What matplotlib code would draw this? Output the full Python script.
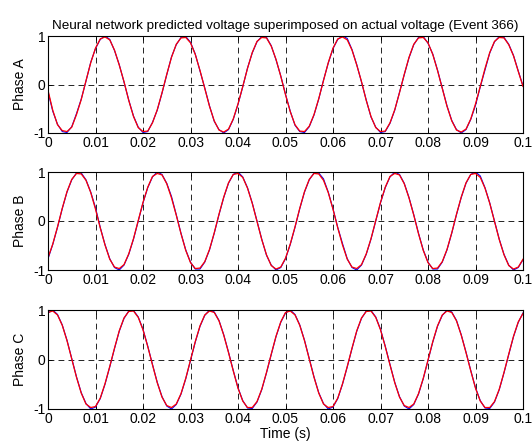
import numpy as np
import matplotlib
matplotlib.use("Agg")
import matplotlib.pyplot as plt

plt.rcParams['font.family'] = ['Liberation Sans', 'DejaVu Sans']
plt.rcParams['font.size'] = 10

# sampled every 1 ms, 0 .. 0.1 s
time_s = np.arange(101) * 0.001

actual_a = [-0.15, -0.55, -0.82, -0.97, -0.99, -0.87, -0.60, -0.30, 0.07, 0.46, 0.74, 0.93, 1.00, 0.93, 0.70, 0.41, 0.05, -0.32, -0.65, -0.88, -0.99, -0.97, -0.78, -0.53, -0.18,
            0.20, 0.57, 0.82, 0.97, 0.99, 0.87, 0.63, 0.28, -0.07, -0.44, -0.76, -0.93, -1.00, -0.93, -0.72, -0.41, -0.05, 0.34, 0.65, 0.88, 0.99, 0.97, 0.80, 0.51, 0.18,
            -0.20, -0.55, -0.84, -0.97, -0.99, -0.87, -0.63, -0.30, 0.09, 0.44, 0.74, 0.93, 1.00, 0.95, 0.72, 0.41, 0.05, -0.32, -0.67, -0.88, -0.99, -0.97, -0.80, -0.53, -0.16,
            0.20, 0.55, 0.82, 0.97, 0.99, 0.85, 0.63, 0.30, -0.07, -0.44, -0.74, -0.93, -1.00, -0.93, -0.72, -0.43, -0.05, 0.30, 0.65, 0.88, 0.99, 0.97, 0.83, 0.60, 0.28, -0.03]
pred_a = [-0.12, -0.53, -0.83, -0.95, -0.97, -0.88, -0.62, -0.31, 0.08, 0.45, 0.75, 0.94, 0.98, 0.92, 0.71, 0.40, 0.06, -0.33, -0.66, -0.89, -0.97, -0.96, -0.79, -0.52, -0.17,
          0.21, 0.56, 0.83, 0.96, 0.97, 0.86, 0.62, 0.29, -0.08, -0.45, -0.75, -0.94, -0.98, -0.92, -0.71, -0.40, -0.04, 0.33, 0.66, 0.89, 0.97, 0.96, 0.79, 0.52, 0.17,
          -0.21, -0.56, -0.83, -0.96, -0.97, -0.86, -0.62, -0.29, 0.08, 0.45, 0.75, 0.94, 0.98, 0.92, 0.71, 0.40, 0.06, -0.33, -0.66, -0.89, -0.97, -0.96, -0.79, -0.52, -0.17,
          0.21, 0.56, 0.83, 0.96, 0.97, 0.86, 0.62, 0.29, -0.08, -0.45, -0.75, -0.94, -0.98, -0.92, -0.71, -0.40, -0.04, 0.33, 0.66, 0.89, 0.97, 0.96, 0.82, 0.59, 0.27, -0.04]

actual_b = [-0.77, -0.48, -0.13, 0.25, 0.59, 0.84, 0.98, 0.98, 0.84, 0.59, 0.27, -0.13, -0.48, -0.77, -0.95, -1.00, -0.90, -0.68, -0.37, 0.00, 0.37, 0.68, 0.90, 1.00, 0.95,
            0.77, 0.50, 0.13, -0.25, -0.59, -0.84, -0.98, -0.98, -0.84, -0.59, -0.25, 0.13, 0.48, 0.77, 0.95, 1.00, 0.90, 0.68, 0.37, 0.00, -0.37, -0.70, -0.90, -1.00, -0.95,
            -0.77, -0.48, -0.13, 0.25, 0.59, 0.84, 0.98, 0.98, 0.86, 0.59, 0.25, -0.13, -0.46, -0.77, -0.95, -1.00, -0.90, -0.68, -0.37, 0.00, 0.37, 0.68, 0.90, 1.00, 0.95,
            0.77, 0.48, 0.13, -0.25, -0.59, -0.84, -0.98, -0.98, -0.84, -0.59, -0.25, 0.13, 0.48, 0.77, 0.95, 1.00, 0.92, 0.68, 0.37, 0.00, -0.37, -0.68, -0.90, -1.00, -0.95, -0.79]
pred_b = [-0.75, -0.47, -0.12, 0.26, 0.60, 0.85, 0.97, 0.96, 0.83, 0.58, 0.24, -0.14, -0.49, -0.78, -0.94, -0.97, -0.89, -0.67, -0.36, 0.01, 0.38, 0.69, 0.91, 0.97, 0.94,
          0.76, 0.47, 0.12, -0.26, -0.60, -0.85, -0.97, -0.96, -0.83, -0.58, -0.24, 0.14, 0.49, 0.78, 0.95, 0.97, 0.89, 0.67, 0.36, -0.01, -0.38, -0.69, -0.91, -0.98, -0.94,
          -0.76, -0.47, -0.12, 0.26, 0.60, 0.85, 0.97, 0.96, 0.83, 0.58, 0.24, -0.14, -0.49, -0.78, -0.94, -0.97, -0.89, -0.67, -0.36, 0.01, 0.38, 0.69, 0.91, 0.97, 0.94,
          0.76, 0.47, 0.12, -0.26, -0.60, -0.85, -0.97, -0.96, -0.83, -0.58, -0.24, 0.14, 0.49, 0.78, 0.95, 0.97, 0.89, 0.67, 0.36, -0.01, -0.38, -0.69, -0.91, -0.98, -0.94, -0.78]

actual_c = [0.94, 1.00, 0.91, 0.70, 0.39, 0.02, -0.35, -0.67, -0.89, -1.00, -0.96, -0.79, -0.50, -0.15, 0.22, 0.57, 0.83, 0.98, 0.99, 0.86, 0.61, 0.27, -0.10, -0.46, -0.75,
            -0.94, -1.00, -0.91, -0.70, -0.39, -0.02, 0.35, 0.67, 0.89, 1.00, 0.96, 0.79, 0.50, 0.15, -0.22, -0.57, -0.83, -0.98, -0.99, -0.86, -0.61, -0.27, 0.10, 0.46, 0.75,
            0.94, 1.00, 0.91, 0.70, 0.39, 0.02, -0.35, -0.67, -0.89, -1.00, -0.96, -0.79, -0.50, -0.15, 0.22, 0.57, 0.83, 0.98, 0.99, 0.86, 0.61, 0.27, -0.10, -0.46, -0.75,
            -0.94, -1.00, -0.91, -0.70, -0.39, -0.02, 0.35, 0.67, 0.89, 1.00, 0.96, 0.79, 0.50, 0.15, -0.22, -0.57, -0.83, -0.98, -0.99, -0.86, -0.61, -0.27, 0.10, 0.46, 0.75, 0.94]
pred_c = [0.95, 0.98, 0.90, 0.69, 0.38, 0.01, -0.36, -0.68, -0.90, -0.97, -0.95, -0.78, -0.49, -0.14, 0.23, 0.58, 0.84, 0.97, 0.98, 0.85, 0.60, 0.26, -0.11, -0.47, -0.76,
          -0.93, -0.97, -0.90, -0.69, -0.38, -0.01, 0.36, 0.68, 0.90, 0.98, 0.95, 0.78, 0.49, 0.14, -0.23, -0.58, -0.84, -0.97, -0.97, -0.85, -0.60, -0.26, 0.11, 0.47, 0.76,
          0.95, 0.98, 0.90, 0.69, 0.38, 0.01, -0.36, -0.68, -0.90, -0.97, -0.95, -0.78, -0.49, -0.14, 0.23, 0.58, 0.84, 0.97, 0.98, 0.85, 0.60, 0.26, -0.11, -0.47, -0.76,
          -0.93, -0.97, -0.90, -0.69, -0.38, -0.01, 0.36, 0.68, 0.90, 0.98, 0.95, 0.78, 0.49, 0.14, -0.23, -0.58, -0.84, -0.97, -0.97, -0.85, -0.60, -0.26, 0.11, 0.47, 0.76, 0.93]

# first output of the network before it settles
pred_start = [-0.12, 0.50, 0.00]

phase_names = ["Phase A", "Phase B", "Phase C"]
xtick_vals = [0, 0.01, 0.02, 0.03, 0.04, 0.05, 0.06, 0.07, 0.08, 0.09, 0.1]
xtick_labels = ["0", "0.01", "0.02", "0.03", "0.04", "0.05", "0.06", "0.07", "0.08", "0.09", "0.1"]

W, H = 532, 447
fig = plt.figure(figsize=(W / 100, H / 100), dpi=100)

# axes boxes in pixels: (top, bottom)
boxes = [(36, 133), (172, 270), (310, 409)]
left_px, right_px = 48, 523

actual = [actual_a, actual_b, actual_c]
pred = [pred_a, pred_b, pred_c]

for i, (top, bot) in enumerate(boxes):
    ax = fig.add_axes([left_px / W, 1 - bot / H, (right_px - left_px) / W, (bot - top) / H])
    ax.plot(time_s, actual[i], color=(0, 0, 1), lw=0.8)
    ax.plot(np.r_[0.0, time_s], np.r_[pred_start[i], pred[i]], color=(1, 0, 0), lw=0.9)
    ax.set_xlim(0, 0.1)
    ax.set_ylim(-1, 1)
    ax.set_xticks(xtick_vals)
    ax.set_xticklabels(xtick_labels)
    ax.set_yticks([-1, 0, 1])
    ax.set_yticklabels(["-1", "0", "1"])
    ax.grid(True, color='black', linestyle=(0, (7, 5)), linewidth=0.6)
    ax.tick_params(direction='in', length=3, width=0.6, top=True, right=True,
                   labelsize=10, pad=2, colors='black')
    for s in ax.spines.values():
        s.set_linewidth(0.8)
    ax.set_ylabel(phase_names[i], fontsize=10, labelpad=4)
    if i == 0:
        ax.set_title("Neural network predicted voltage superimposed on actual voltage (Event 366)",
                     fontsize=9.7, pad=5)
    if i == 2:
        ax.set_xlabel("Time (s)", fontsize=10, labelpad=1)

fig.savefig("out.png", dpi=100)
